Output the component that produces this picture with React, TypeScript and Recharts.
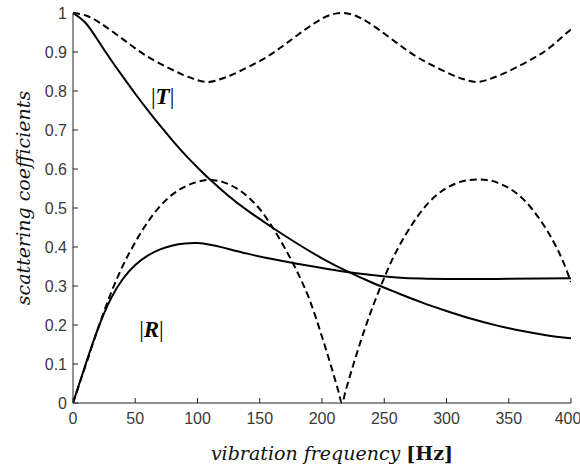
import React from "react";
import { LineChart, Line, XAxis, YAxis, ReferenceDot, Label } from "recharts";

// |T| (solid)
const tFreq = [0, 10, 20, 30, 40, 50, 60, 70, 80, 90, 100, 110, 125, 140, 160, 180, 200, 220, 240, 260, 280, 300, 320, 340, 360, 380, 400];
const tVal = [1.0, 0.975, 0.93, 0.882, 0.837, 0.793, 0.751, 0.711, 0.673, 0.637, 0.604, 0.573, 0.531, 0.494, 0.45, 0.409, 0.371, 0.338, 0.309, 0.283, 0.258, 0.236, 0.216, 0.199, 0.185, 0.174, 0.166];

// |R| (solid)
const rFreq = [0, 10, 20, 30, 40, 50, 60, 70, 80, 90, 100, 110, 120, 140, 160, 180, 200, 220, 240, 260, 280, 300, 340, 400];
const rVal = [0, 0.098, 0.19, 0.265, 0.318, 0.354, 0.378, 0.394, 0.404, 0.409, 0.41, 0.406, 0.399, 0.383, 0.369, 0.357, 0.346, 0.336, 0.328, 0.322, 0.319, 0.318, 0.318, 0.32];

// upper dashed
const uFreq = [0, 11, 22, 35, 48, 61, 75, 88, 98, 108, 118, 128, 141, 155, 168, 181, 194, 205, 216, 227, 238, 251, 264, 277, 291, 304, 314, 324, 334, 344, 357, 371, 384, 397, 400];
const uVal = [1.0, 0.993, 0.974, 0.945, 0.914, 0.886, 0.862, 0.842, 0.83, 0.823, 0.83, 0.842, 0.862, 0.886, 0.914, 0.945, 0.974, 0.993, 1.0, 0.993, 0.974, 0.945, 0.914, 0.886, 0.862, 0.842, 0.83, 0.823, 0.83, 0.842, 0.862, 0.886, 0.914, 0.95, 0.957];

// lower dashed
const lFreq = [0, 10, 20, 30, 40, 50, 60, 70, 80, 90, 100, 110, 120, 130, 140, 150, 160, 170, 180, 190, 200, 208, 213, 216, 219, 226, 236, 246, 256, 266, 276, 286, 296, 306, 316, 325, 334, 344, 354, 364, 374, 384, 394, 400];
const lVal = [0, 0.095, 0.19, 0.278, 0.352, 0.412, 0.464, 0.505, 0.535, 0.555, 0.567, 0.572, 0.567, 0.553, 0.53, 0.497, 0.452, 0.398, 0.337, 0.265, 0.17, 0.087, 0.032, 0, 0.032, 0.107, 0.205, 0.29, 0.365, 0.425, 0.475, 0.515, 0.543, 0.561, 0.571, 0.573, 0.571, 0.561, 0.543, 0.515, 0.475, 0.425, 0.36, 0.31];

const xTicks = [0, 50, 100, 150, 200, 250, 300, 350, 400];
const yTicks = [0, 0.1, 0.2, 0.3, 0.4, 0.5, 0.6, 0.7, 0.8, 0.9, 1];

const toData = (fs: number[], vs: number[]) => fs.map((f, i) => ({ f, v: vs[i] }));
const tData = toData(tFreq, tVal);
const rData = toData(rFreq, rVal);
const uData = toData(uFreq, uVal);
const lData = toData(lFreq, lVal);

const tickStyle = { fontFamily: "Liberation Sans, Arial, sans-serif", fontSize: 16, fill: "#3a3a3a" };
const axisStroke = "#222";

const XLabel = (props: any) => {
  const vb = props.viewBox;
  return (
    <text x={vb.x + vb.width / 2 + 10} y={vb.y + 57} textAnchor="middle" fontFamily="DejaVu Serif" fontSize={19} fill="#111">
      <tspan fontStyle="italic">vibration frequency </tspan>
      <tspan fontWeight="bold">[Hz]</tspan>
    </text>
  );
};

const YLabel = (props: any) => {
  const vb = props.viewBox;
  const cx = vb.x + 23;
  const cy = vb.y + vb.height / 2 - 10;
  return (
    <text x={cx} y={cy} transform={`rotate(-90 ${cx} ${cy})`} textAnchor="middle" dominantBaseline="central" fontFamily="DejaVu Serif" fontStyle="italic" fontSize={19} fill="#111">
      scattering coefficients
    </text>
  );
};

const makeAnno = (letter: string) => (props: any) => {
  const vb = props.viewBox;
  const cx = vb.x + (vb.width || 0) / 2;
  const cy = vb.y + (vb.height || 0) / 2;
  return (
    <text x={cx} y={cy} textAnchor="middle" dominantBaseline="central" fontFamily="Liberation Serif" fontSize={23} fill="#000">
      <tspan>|</tspan>
      <tspan fontWeight="bold" fontStyle="italic">{letter}</tspan>
      <tspan>|</tspan>
    </text>
  );
};

export default function App() {
  return (
    <div style={{ position: "absolute", left: 0, top: 0, background: "#fff" }}>
      <LineChart width={580} height={468} margin={{ top: 13, right: 9, left: 0, bottom: 0 }}>
        <XAxis
          xAxisId="b"
          type="number"
          dataKey="f"
          domain={[0, 400]}
          ticks={xTicks}
          height={65}
          tickSize={-5}
          tickMargin={15}
          tick={tickStyle}
          stroke={axisStroke}
          allowDataOverflow
        >
          <Label content={XLabel} />
        </XAxis>
        <XAxis
          xAxisId="t"
          orientation="top"
          type="number"
          dataKey="f"
          domain={[0, 400]}
          ticks={xTicks}
          height={0}
          tickSize={-5}
          tick={false}
          stroke={axisStroke}
        />
        <YAxis
          yAxisId="l"
          type="number"
          domain={[0, 1]}
          ticks={yTicks}
          width={73}
          tickSize={-5}
          tickMargin={11}
          tick={tickStyle}
          stroke={axisStroke}
          tickFormatter={(v: number) => String(v)}
        >
          <Label content={YLabel} />
        </YAxis>
        <YAxis
          yAxisId="r"
          orientation="right"
          type="number"
          domain={[0, 1]}
          ticks={yTicks}
          width={0}
          tickSize={-5}
          tick={false}
          stroke={axisStroke}
        />
        <Line xAxisId="b" yAxisId="l" data={uData} dataKey="v" type="natural" stroke="#000" strokeWidth={2} strokeDasharray="7 4" dot={false} isAnimationActive={false} />
        <Line xAxisId="b" yAxisId="l" data={lData} dataKey="v" type="monotone" stroke="#000" strokeWidth={2} strokeDasharray="7 4" dot={false} isAnimationActive={false} />
        <Line xAxisId="b" yAxisId="l" data={tData} dataKey="v" type="natural" stroke="#000" strokeWidth={2} dot={false} isAnimationActive={false} />
        <Line xAxisId="b" yAxisId="l" data={rData} dataKey="v" type="natural" stroke="#000" strokeWidth={2} dot={false} isAnimationActive={false} />
        <ReferenceDot xAxisId="b" yAxisId="l" x={72} y={0.788} r={0} fill="none" stroke="none">
          <Label content={makeAnno("T")} />
        </ReferenceDot>
        <ReferenceDot xAxisId="b" yAxisId="l" x={63} y={0.19} r={0} fill="none" stroke="none">
          <Label content={makeAnno("R")} />
        </ReferenceDot>
      </LineChart>
    </div>
  );
}
